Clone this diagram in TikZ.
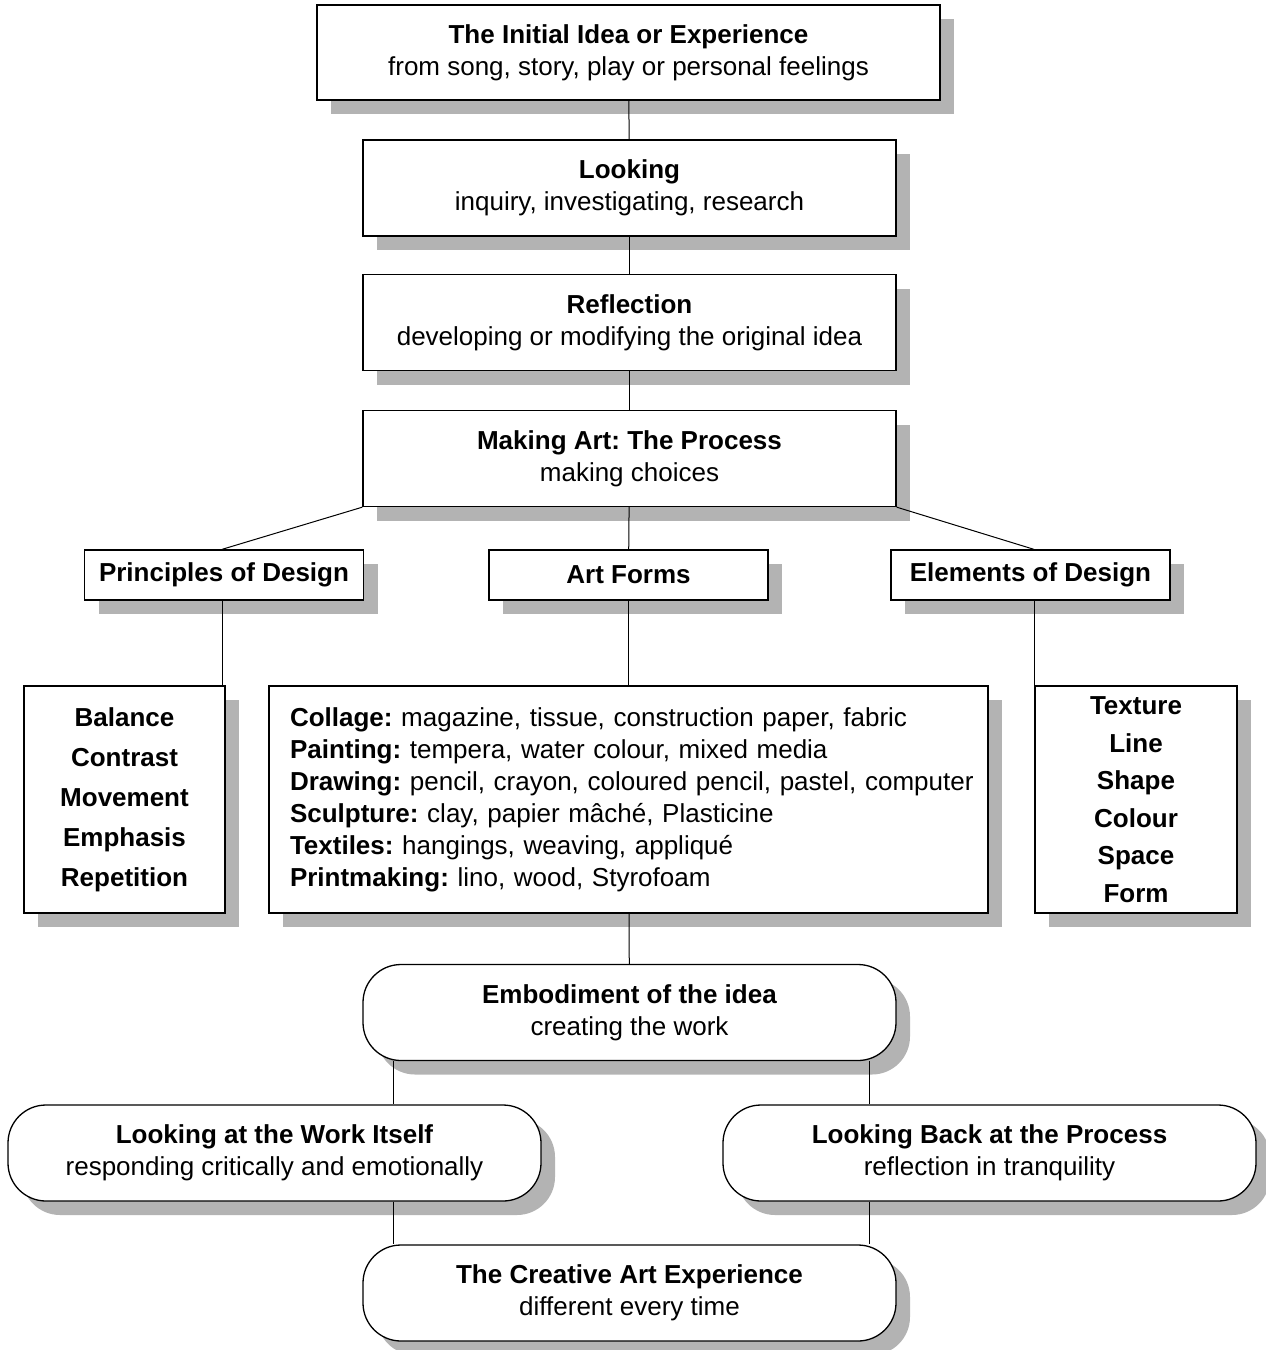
\documentclass[tikz,border=0pt]{standalone}
\usepackage{fontspec}
\setmainfont{Liberation Sans}
\usetikzlibrary{shadows}
\definecolor{shade}{HTML}{B3B3B3}
\frenchspacing
\begin{document}
\begin{tikzpicture}[x=1pt,y=-1pt,
  box/.style={draw, line width=1.3pt, fill=white, align=center, inner sep=0pt,
    font=\fontsize{26}{32}\selectfont,
    drop shadow={shadow xshift=14pt, shadow yshift=-14pt, fill=shade, opacity=1}},
  bigbox/.style={box, minimum width=533pt, minimum height=96pt},
  roundbox/.style={bigbox, rounded corners=38pt},
  tabbox/.style={box, minimum width=279pt, minimum height=50pt, font=\fontsize{26}{32}\selectfont\bfseries},
  link/.style={line width=1pt}
]
\useasboundingbox (0,0) rectangle (1266,1350);

% process chain
\node[box, minimum width=623pt, minimum height=95pt] (idea) at (628.5,52.5)
  {\textbf{The Initial Idea or Experience}\\from song, story, play or personal feelings};
\node[bigbox] (look) at (629.5,188) {\textbf{Looking}\\inquiry, investigating, research};
\node[bigbox] (refl) at (629.5,322.5) {\textbf{Reflection}\\developing or modifying the original idea};
\node[bigbox] (make) at (629.5,458.5) {\textbf{Making Art: The Process}\\making choices};

% three branches
\node[tabbox] (princ) at (224,575) {Principles of Design};
\node[tabbox] (forms) at (628.5,575) {Art Forms};
\node[tabbox] (elem) at (1030.5,575) {Elements of Design};

\node[box, minimum width=201pt, minimum height=227pt, font=\fontsize{26}{40}\selectfont\bfseries] (plist) at (124.5,799.5)
  {Balance\\Contrast\\Movement\\Emphasis\\Repetition};
\node[box, minimum height=227pt, text width=677pt, inner xsep=21pt, align=left] (flist) at (628.5,799.5)
  {\mbox{\textbf{Collage:} magazine, tissue, construction paper, fabric}\\
   \mbox{\textbf{Painting:} tempera, water colour, mixed media}\\
   \mbox{\textbf{Drawing:} pencil, crayon, coloured pencil, pastel, computer}\\
   \mbox{\textbf{Sculpture:} clay, papier mâché, Plasticine}\\
   \mbox{\textbf{Textiles:} hangings, weaving, appliqué}\\
   \mbox{\textbf{Printmaking:} lino, wood, Styrofoam}};
\node[box, minimum width=202pt, minimum height=227pt, font=\fontsize{26}{37.5}\selectfont\bfseries] (elist) at (1136,799.5)
  {Texture\\Line\\Shape\\Colour\\Space\\Form};

% outcome
\node[roundbox] (emb) at (629.5,1012.5) {\textbf{Embodiment of the idea}\\creating the work};
\node[roundbox] (work) at (274.5,1153) {\textbf{Looking at the Work Itself}\\responding critically and emotionally};
\node[roundbox] (back) at (989.5,1153) {\textbf{Looking Back at the Process}\\reflection in tranquility};
\node[roundbox] (exp) at (629.5,1293) {\textbf{The Creative Art Experience}\\different every time};

% connectors
\coordinate (lx) at (393,0);
\coordinate (rx) at (869,0);
\coordinate (px) at (222,0);
\coordinate (ex) at (1034,0);
\draw[link] (idea) -- (look);
\draw[link] (look) -- (refl);
\draw[link] (refl) -- (make);
\draw[link] (make.south west) -- (princ.north -| px);
\draw[link] (make) -- (forms);
\draw[link] (make.south east) -- (elem.north -| ex);
\draw[link] (princ.south -| px) -- (plist.north -| px);
\draw[link] (forms) -- (flist);
\draw[link] (elem.south -| ex) -- (elist.north -| ex);
\draw[link] (flist) -- (emb);
\draw[link] (emb.south -| lx) -- (work.north -| lx);
\draw[link] (emb.south -| rx) -- (back.north -| rx);
\draw[link] (work.south -| lx) -- (exp.north -| lx);
\draw[link] (back.south -| rx) -- (exp.north -| rx);
\end{tikzpicture}
\end{document}
